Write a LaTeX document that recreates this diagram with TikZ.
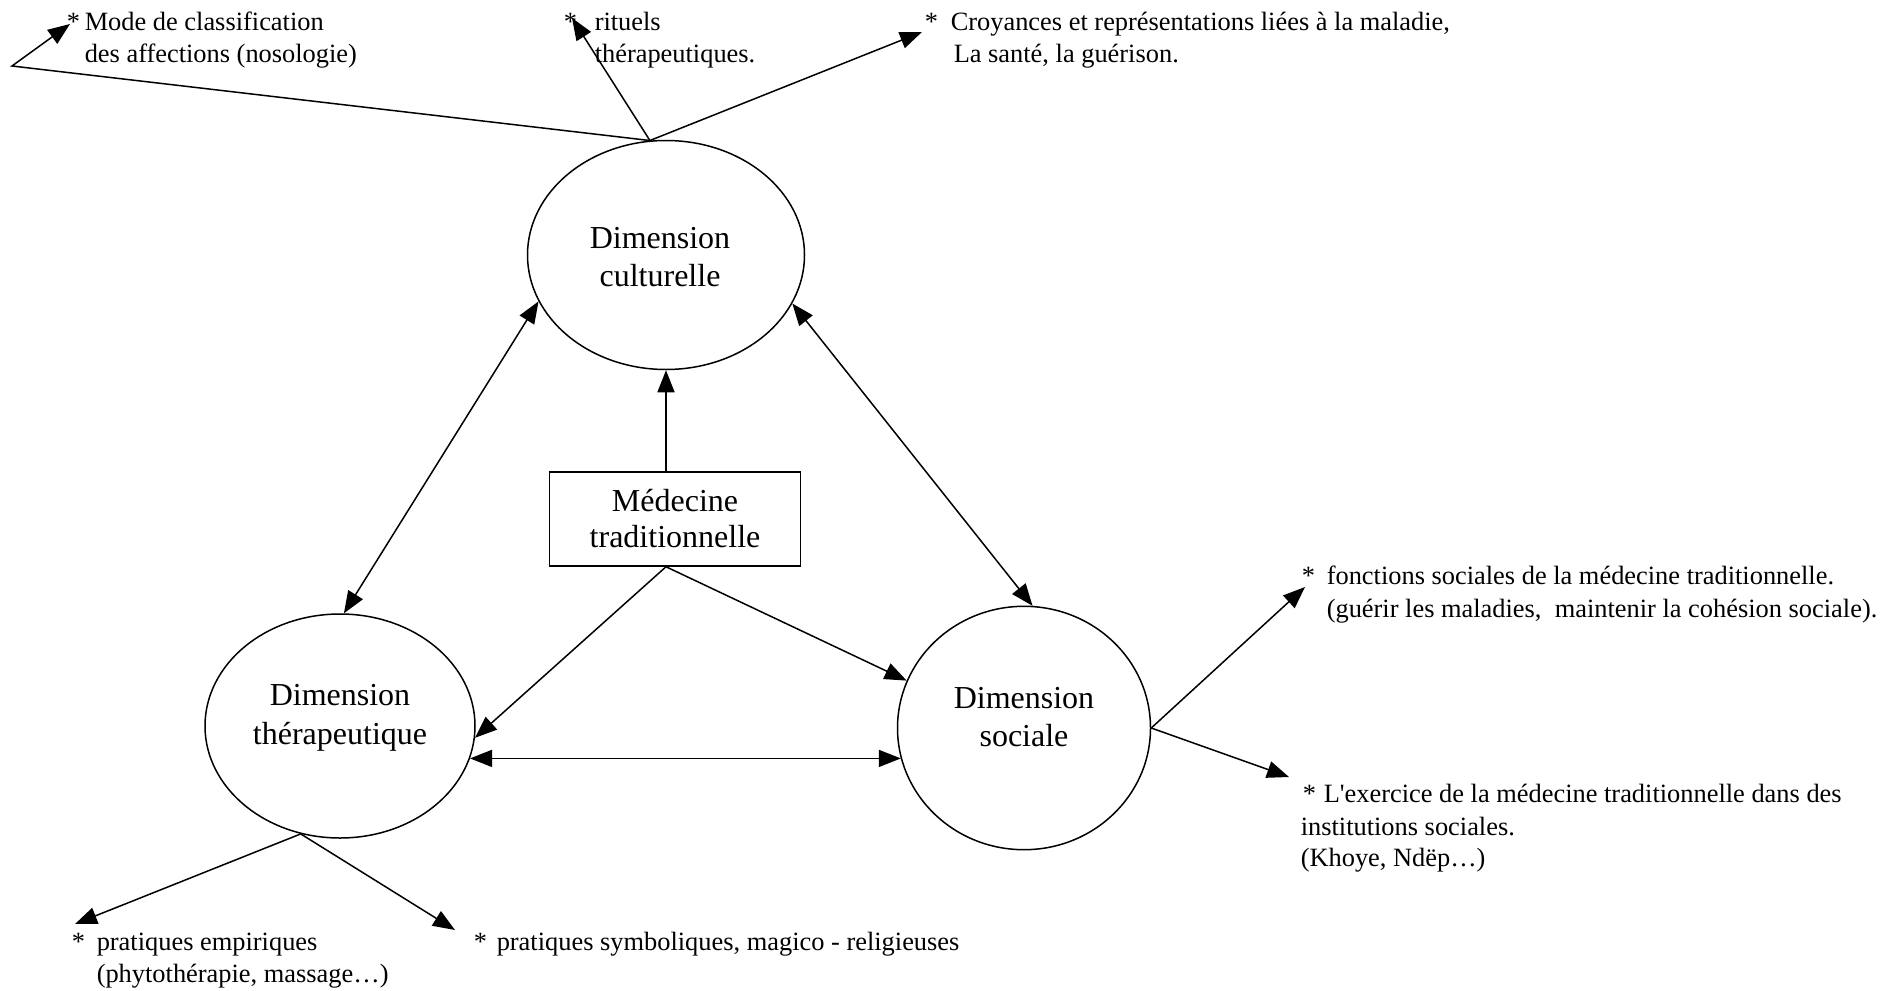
\documentclass[tikz,border=0pt]{standalone}
\usepackage{fontspec}
\setmainfont{Liberation Serif}
\usetikzlibrary{arrows.meta,shapes.geometric}
\begin{document}
\begin{tikzpicture}[x=0.5pt,y=-0.5pt,
  line width=0.75pt,
  dim/.style={ellipse,draw,inner sep=0pt},
  dimtxt/.style={inner sep=0pt,align=center,font=\fontsize{16}{19.3}\selectfont},
  medbox/.style={rectangle,draw,inner sep=0pt,align=center,font=\fontsize{16}{18}\selectfont,minimum width=125.5pt,minimum height=47pt},
  lbl/.style={anchor=base west,inner sep=0pt,font=\fontsize{13.2}{15.7}\selectfont},
  arr/.style={-{Triangle[length=11pt,width=8.5pt]}},
  darr/.style={{Triangle[length=11pt,width=8.5pt]}-{Triangle[length=11pt,width=8.5pt]}}
]
\useasboundingbox (0,0) rectangle (1889,990);

% main nodes
\node[dim,minimum width=138.5pt,minimum height=114.5pt] (cult) at (666,255) {};
\node[dimtxt] (culttxt) at ([xshift=-3pt,yshift=-1pt]cult.center) {Dimension\\culturelle};
\node[dim,minimum width=135pt,minimum height=112pt] (ther) at (340,726) {};
\node[dimtxt] (thertxt) at ([yshift=4pt]ther.center) {Dimension\\thérapeutique};
\node[dim,minimum width=126.5pt,minimum height=121.7pt] (soc) at (1024,728) {};
\node[dimtxt] (soctxt) at ([yshift=5.5pt]soc.center) {Dimension\\sociale};
\node[medbox] (med) at (675,519) {Médecine\\traditionnelle};

% helper coordinates
\coordinate (ct) at (cult.98);
\coordinate (kink) at (12,66);
\coordinate (tmode) at (70,24);
\coordinate (trit) at (572,18);
\coordinate (tcroy) at (922,32);
\coordinate (sr) at (soc.east);
\coordinate (tfonc) at (1305,587);
\coordinate (texer) at (1289,777);
\coordinate (tb) at (ther.250);
\coordinate (temp) at (75,924);
\coordinate (tsym) at (455,930);
\coordinate (ms) at (med.south -| cult.south);

% connectors
\draw[arr] (med.north -| cult.south) -- (cult.south);
\draw[darr] (cult.200) -- (ther.88);
\draw[darr] (cult.339) -- (soc.86);
\draw[arr] (ms) -- (ther.-5);
\draw[arr] (ms) -- (soc.158);
\draw[darr] (ther.-14) -- (ther.-14 -| soc.194);
\draw[arr] (ct) -- (kink) -- (tmode);
\draw[arr] (ct) -- (trit);
\draw[arr] (ct) -- (tcroy);
\draw[arr] (sr) -- (tfonc);
\draw[arr] (sr) -- (texer);
\draw[arr] (tb) -- (temp);
\draw[arr] (tb) -- (tsym);

% labels
\node[lbl] (s1) at (66,31) {*};
\node[lbl] (m1) at (84,31) {Mode de classification};
\node[lbl] (m2) at (84,63) {des affections (nosologie)};
\node[lbl] (s2) at (563,31) {*};
\node[lbl] (r1) at (594,31) {rituels};
\node[lbl] (r2) at (594,63) {thérapeutiques.};
\node[lbl] (s3) at (924,31) {*};
\node[lbl] (c1) at (950,31) {Croyances et représentations liées à la maladie,};
\node[lbl] (c2) at (953,63) {La santé, la guérison.};
\node[lbl] (s4) at (1301,584) {*};
\node[lbl] (f1) at (1326,584) {fonctions sociales de la médecine traditionnelle.};
\node[lbl] (f2) at (1326,617) {(guérir les maladies,\ \ maintenir la cohésion sociale).};
\node[lbl] (s5) at (1302,802) {*};
\node[lbl] (e1) at (1323,802) {L\textquotesingle exercice de la médecine traditionnelle dans des};
\node[lbl] (e2) at (1300,835) {institutions sociales.};
\node[lbl] (e3) at (1300,866) {(Khoye, Ndëp…)};
\node[lbl] (s6) at (71,950) {*};
\node[lbl] (p1) at (96,950) {pratiques empiriques};
\node[lbl] (p2) at (96,982) {(phytothérapie, massage…)};
\node[lbl] (s7) at (473,950) {*};
\node[lbl] (p3) at (496,950) {pratiques symboliques, magico - religieuses};
\end{tikzpicture}
\end{document}
